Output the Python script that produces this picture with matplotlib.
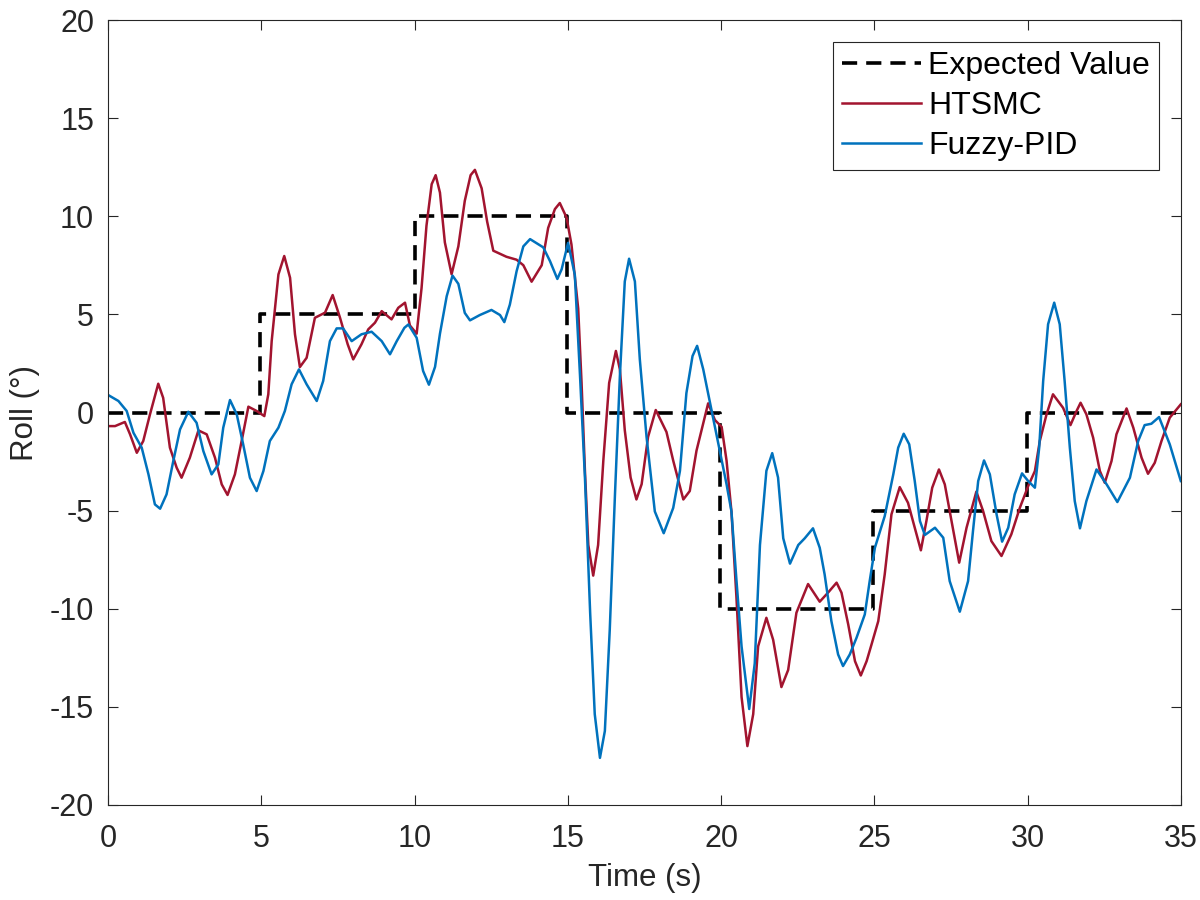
import matplotlib
matplotlib.use("Agg")
import matplotlib.pyplot as plt

plt.rcParams['font.family'] = ['Liberation Sans', 'DejaVu Sans']
plt.rcParams['axes.unicode_minus'] = False

# expected (reference) roll
ref_t = [0, 4.97, 4.97, 10.0, 10.0, 14.97, 14.97, 19.97, 19.97, 24.97, 24.97, 29.97, 29.97, 35]
ref_y = [0, 0, 5, 5, 10, 10, 0, 0, -10, -10, -5, -5, 0, 0]

# HTSMC response
htsmc_t = [0.01, 0.23, 0.55, 0.72, 0.94, 1.15, 1.37, 1.64, 1.8, 2.02, 2.24, 2.4, 2.67, 2.95,
           3.22, 3.49, 3.71, 3.9, 4.14, 4.36, 4.58, 4.85, 5.1, 5.23, 5.34, 5.56, 5.75, 5.94,
           6.1, 6.26, 6.48, 6.75, 7.08, 7.33, 7.57, 7.82, 8.0, 8.27, 8.49, 8.71, 8.93, 9.25,
           9.47, 9.69, 9.85, 10.07, 10.23, 10.39, 10.56, 10.69, 10.83, 10.99, 11.21, 11.43,
           11.64, 11.83, 11.97, 12.19, 12.37, 12.57, 13.0, 13.33, 13.55, 13.82, 14.15, 14.36,
           14.58, 14.74, 14.96, 15.12, 15.34, 15.45, 15.56, 15.67, 15.83, 15.99, 16.16, 16.35,
           16.57, 16.7, 16.86, 17.05, 17.24, 17.41, 17.62, 17.87, 18.22, 18.44, 18.77, 18.98,
           19.2, 19.58, 19.8, 20.02, 20.18, 20.34, 20.5, 20.67, 20.86, 21.05, 21.21, 21.48,
           21.7, 21.97, 22.19, 22.46, 22.84, 23.22, 23.49, 23.77, 23.93, 24.15, 24.37, 24.56,
           24.75, 24.91, 25.13, 25.34, 25.56, 25.83, 26.1, 26.32, 26.52, 26.7, 26.89, 27.11,
           27.3, 27.52, 27.77, 28.01, 28.33, 28.55, 28.82, 29.15, 29.47, 29.75, 30.02, 30.24,
           30.4, 30.62, 30.83, 31.16, 31.4, 31.6, 31.73, 31.92, 32.14, 32.36, 32.52, 32.74,
           32.9, 33.23, 33.45, 33.72, 33.93, 34.15, 34.37, 34.64, 35.0]
htsmc_y = [-0.69, -0.69, -0.48, -1.11, -2.05, -1.45, -0.09, 1.47, 0.75, -1.79, -2.81, -3.32, -2.3, -0.91,
           -1.11, -2.3, -3.66, -4.2, -3.15, -1.45, 0.3, 0.08, -0.18, 0.93, 3.64, 7.04, 7.98, 6.87,
           3.99, 2.32, 2.79, 4.83, 5.09, 5.99, 4.83, 3.48, 2.71, 3.48, 4.24, 4.58, 5.17, 4.75,
           5.34, 5.6, 4.44, 4.02, 6.35, 9.52, 11.64, 12.1, 11.21, 8.67, 7.05, 8.47,
           10.79, 12.1, 12.37, 11.43, 9.73, 8.25, 7.94, 7.79, 7.51, 6.67, 7.51, 9.41,
           10.37, 10.68, 9.94, 8.57, 5.3, 1.51, -2.97, -6.75, -8.31, -6.75, -2.45, 1.51,
           3.14, 2.2, -0.9, -3.31, -4.43, -3.65, -1.24, 0.13, -0.99, -2.45, -4.43, -4.0,
           -1.94, 0.47, -0.38, -0.73, -2.45, -5.04, -9.34, -14.5, -17.0, -15.37, -11.92, -10.46,
           -11.58, -13.99, -13.12, -10.2, -8.74, -9.64, -9.18, -8.67, -9.18, -10.8, -12.67, -13.4,
           -12.67, -11.82, -10.63, -8.25, -5.19, -3.8, -4.6, -5.87, -7.02, -5.53, -3.83, -2.9,
           -3.66, -5.53, -7.65, -5.87, -4.03, -5.02, -6.55, -7.31, -6.21, -4.85, -3.75, -2.98,
           -1.45, -0.09, 0.93, 0.24, -0.64, 0.08, 0.5, -0.09, -1.28, -2.98, -3.58, -2.47,
           -1.11, 0.21, -0.77, -2.3, -3.12, -2.56, -1.45, -0.26, 0.42]

# Fuzzy-PID response
fpid_t = [0.01, 0.34, 0.61, 0.83, 1.1, 1.32, 1.53, 1.7, 1.91, 2.13, 2.35, 2.62, 2.89, 3.11,
          3.38, 3.6, 3.76, 3.98, 4.2, 4.41, 4.63, 4.85, 5.07, 5.28, 5.56, 5.77, 5.99, 6.23,
          6.48, 6.81, 7.02, 7.24, 7.46, 7.67, 7.95, 8.27, 8.6, 8.93, 9.2, 9.42, 9.67, 9.8,
          10.07, 10.28, 10.47, 10.67, 10.83, 11.05, 11.24, 11.43, 11.64, 11.81, 12.13, 12.51,
          12.79, 12.93, 13.11, 13.33, 13.55, 13.77, 14.2, 14.42, 14.66, 14.8, 15.01, 15.23,
          15.4, 15.56, 15.73, 15.88, 16.05, 16.21, 16.37, 16.54, 16.7, 16.86, 17.0, 17.19,
          17.35, 17.57, 17.84, 18.13, 18.44, 18.66, 18.87, 19.07, 19.22, 19.42, 19.69, 19.96,
          20.18, 20.34, 20.5, 20.67, 20.92, 21.1, 21.27, 21.48, 21.67, 21.86, 22.03, 22.25,
          22.52, 22.73, 23.0, 23.22, 23.38, 23.6, 23.82, 23.98, 24.2, 24.42, 24.69, 24.85,
          25.02, 25.34, 25.62, 25.78, 25.96, 26.14, 26.32, 26.49, 26.65, 26.98, 27.25, 27.46,
          27.79, 28.06, 28.22, 28.39, 28.58, 28.77, 28.99, 29.17, 29.37, 29.58, 29.82, 30.02,
          30.24, 30.38, 30.51, 30.67, 30.87, 31.05, 31.21, 31.38, 31.54, 31.71, 31.92, 32.25,
          32.58, 32.93, 33.34, 33.61, 33.82, 34.04, 34.29, 34.64, 35.0]
fpid_y = [0.89, 0.59, 0.08, -1.03, -1.79, -3.15, -4.68, -4.9, -4.17, -2.47, -0.86, 0.04, -0.52, -1.96,
          -3.15, -2.64, -0.77, 0.64, -0.09, -1.62, -3.32, -4.0, -2.98, -1.45, -0.77, 0.08, 1.44, 2.2,
          1.44, 0.59, 1.61, 3.64, 4.29, 4.29, 3.64, 3.99, 4.12, 3.64, 2.97, 3.64, 4.32, 4.49,
          3.81, 2.12, 1.42, 2.33, 4.02, 5.93, 6.98, 6.56, 5.08, 4.7, 4.97, 5.23,
          4.97, 4.61, 5.5, 7.2, 8.47, 8.84, 8.42, 7.72, 6.81, 7.3, 8.65, 7.02,
          1.86, -3.31, -10.2, -15.37, -17.6, -16.23, -11.06, -4.17, 1.86, 6.68, 7.84, 6.68,
          2.72, -1.24, -5.04, -6.15, -4.86, -2.97, 0.99, 2.88, 3.4, 2.2, 0.13, -1.94,
          -3.65, -5.04, -8.48, -11.92, -15.11, -12.78, -6.75, -2.97, -2.07, -3.31, -6.41, -7.7,
          -6.75, -6.41, -5.9, -6.89, -8.25, -10.63, -12.33, -12.92, -12.33, -11.48, -10.29, -8.59,
          -6.89, -5.28, -3.15, -1.79, -1.08, -1.62, -3.49, -5.53, -6.24, -5.87, -6.38, -8.59,
          -10.15, -8.59, -6.04, -3.49, -2.44, -3.15, -5.19, -6.58, -5.87, -4.17, -3.1, -3.49,
          -3.83, -1.79, 1.61, 4.5, 5.6, 4.5, 1.61, -1.79, -4.51, -5.9, -4.51, -2.9,
          -3.66, -4.56, -3.32, -1.45, -0.64, -0.57, -0.23, -1.62, -3.49]

fig = plt.figure(figsize=(12, 9), dpi=100)
ax = fig.add_axes([0.09, 0.1056, 0.894, 0.872])

ax.plot(ref_t, ref_y, color='black', linestyle='--', linewidth=2.6, dashes=(4.2, 2.5),
        label='Expected Value')
ax.plot(htsmc_t, htsmc_y, color='#A2142F', linewidth=1.8, label='HTSMC')
ax.plot(fpid_t, fpid_y, color='#0072BD', linewidth=1.8, label='Fuzzy-PID')

ax.set_xlim(0, 35)
ax.set_ylim(-20, 20)
ax.set_xticks(range(0, 36, 5))
ax.set_yticks(range(-20, 21, 5))
ax.tick_params(direction='in', top=True, right=True, labelsize=22, length=7.5, width=0.8,
               colors='#262626')
ax.tick_params(axis='x', pad=14)
ax.tick_params(axis='y', pad=10)
for s in ax.spines.values():
    s.set_color('#262626')
    s.set_linewidth(0.8)

ax.set_xlabel('Time (s)', fontsize=22.5, color='#262626', labelpad=6)
ax.set_ylabel('Roll (°)', fontsize=22.5, color='#262626', labelpad=7)

leg = ax.legend(loc='upper right', fontsize=23, frameon=True, fancybox=False,
                edgecolor='#262626', framealpha=1, handlelength=2.48, borderaxespad=0.68,
                labelspacing=0.32, handletextpad=0.22, borderpad=0.28)
leg.get_frame().set_linewidth(0.8)

fig.savefig('out.png', dpi=100)
